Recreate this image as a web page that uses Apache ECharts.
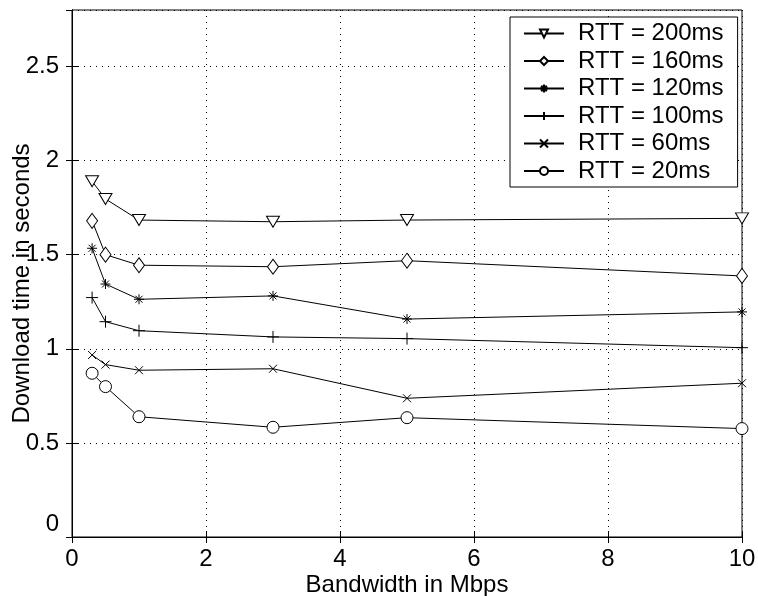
<!DOCTYPE html>
<html>
<head>
<meta charset="utf-8">
<script src="https://cdn.jsdelivr.net/npm/echarts@6/dist/echarts.min.js"></script>
<style>
html,body{margin:0;padding:0;background:#fff;}
#chart{width:758px;height:596px;}
</style>
</head>
<body>
<div id="chart"></div>
<script>
const bandwidth = [0.3, 0.5, 1, 3, 5, 10];
const seriesNames = ['RTT = 200ms', 'RTT = 160ms', 'RTT = 120ms', 'RTT = 100ms', 'RTT = 60ms', 'RTT = 20ms'];
const rtt200 = [1.89, 1.796, 1.684, 1.675, 1.684, 1.693];
const rtt160 = [1.68, 1.50, 1.444, 1.436, 1.468, 1.387];
const rtt120 = [1.534, 1.344, 1.263, 1.281, 1.158, 1.196];
const rtt100 = [1.272, 1.144, 1.096, 1.063, 1.054, 1.006];
const rtt60  = [0.967, 0.916, 0.886, 0.894, 0.737, 0.817];
const rtt20  = [0.87, 0.799, 0.639, 0.583, 0.634, 0.576];
const yTicks = [0, 0.5, 1, 1.5, 2, 2.5];
const xTicks = [0, 2, 4, 6, 8, 10];

const FONT = 'Liberation Sans, Arial, Helvetica, sans-serif';
const FS = 24;
const symbols = [
  {symbol: 'triangle', size: [13, 11], rotate: 180},
  {symbol: 'diamond', size: [11, 15], rotate: 0},
  {symbol: 'path://M5,0L5,10M0,5L10,5M1.5,1.5L8.5,8.5M8.5,1.5L1.5,8.5', size: 10, rotate: 0},
  {symbol: 'path://M5,0L5,10M0,5L10,5', size: 12, rotate: 0},
  {symbol: 'path://M0,0L10,10M10,0L0,10', size: 8, rotate: 0},
  {symbol: 'circle', size: 12, rotate: 0}
];
const values = [rtt200, rtt160, rtt120, rtt100, rtt60, rtt20];

const series = values.map((vals, i) => ({
  name: seriesNames[i],
  type: 'line',
  data: bandwidth.map((x, j) => [x, vals[j]]),
  symbol: symbols[i].symbol,
  symbolSize: symbols[i].size,
  symbolRotate: symbols[i].rotate,
  showAllSymbol: true,
  lineStyle: {color: '#000', width: 1},
  itemStyle: {color: '#fff', borderColor: '#000', borderWidth: 1},
  emphasis: {disabled: true},
  animation: false
}));

const chart = echarts.init(document.getElementById('chart'), null, {renderer: 'canvas'});
chart.setOption({
  backgroundColor: '#fff',
  animation: false,
  grid: {left: 72, right: 16, top: 10, bottom: 59, show: true, borderColor: '#000', borderWidth: 1,
         backgroundColor: 'transparent', containLabel: false, outerBoundsMode: 'none'},
  legend: {
    orient: 'vertical',
    left: 510,
    top: 17,
    padding: [4.5, 14, 4, 13],
    itemGap: 3.5,
    itemWidth: 40,
    itemHeight: 10,
    backgroundColor: '#fff',
    borderColor: '#000',
    borderWidth: 1,
    textStyle: {fontFamily: FONT, fontSize: FS, color: '#000', lineHeight: 24, padding: [0, 0, 0, 9]},
    data: seriesNames
  },
  xAxis: [{
    type: 'value', min: 0, max: 10, interval: 2,
    name: 'Bandwidth in Mbps', nameLocation: 'middle', nameGap: 36, nameMoveOverlap: false,
    nameTextStyle: {fontFamily: FONT, fontSize: FS, color: '#000'},
    axisLine: {show: true, lineStyle: {color: '#000', width: 1}},
    axisTick: {show: true, inside: true, length: 6, lineStyle: {color: '#000'}},
    axisLabel: {fontFamily: FONT, fontSize: FS, color: '#000', margin: 10},
    splitLine: {show: true, lineStyle: {color: '#000', type: [1, 5], width: 1}}
  }, {
    type: 'value', min: 0, max: 10, interval: 2, position: 'top',
    axisLine: {show: true, lineStyle: {color: '#000'}},
    axisTick: {show: true, inside: true, length: 6, lineStyle: {color: '#000'}},
    axisLabel: {show: false}, splitLine: {show: false}
  }],
  yAxis: [{
    type: 'value', min: 0, max: 2.8, interval: 0.5,
    name: 'Download time in seconds', nameLocation: 'middle', nameGap: 38, nameMoveOverlap: false,
    nameTextStyle: {fontFamily: FONT, fontSize: FS, color: '#000', padding: [0, 20, 0, 0]},
    axisLine: {show: true, lineStyle: {color: '#000', width: 1}},
    axisTick: {show: true, inside: true, length: 6, lineStyle: {color: '#000'}},
    axisLabel: {
      fontFamily: FONT, fontSize: FS, color: '#000', margin: 13, showMaxLabel: false,
      formatter: v => v === 0 ? '{z|0}' : String(v),
      rich: {z: {fontFamily: FONT, fontSize: FS, color: '#000', padding: [0, 0, 26, 0]}}
    },
    splitLine: {show: true, lineStyle: {color: '#000', type: [1, 5], width: 1}}
  }, {
    type: 'value', min: 0, max: 2.8, interval: 0.5, position: 'right',
    axisLine: {show: true, lineStyle: {color: '#000'}},
    axisTick: {show: true, inside: true, length: 6, lineStyle: {color: '#000'}},
    axisLabel: {show: false}, splitLine: {show: false}
  }],
  series: series
});
</script>
</body>
</html>
